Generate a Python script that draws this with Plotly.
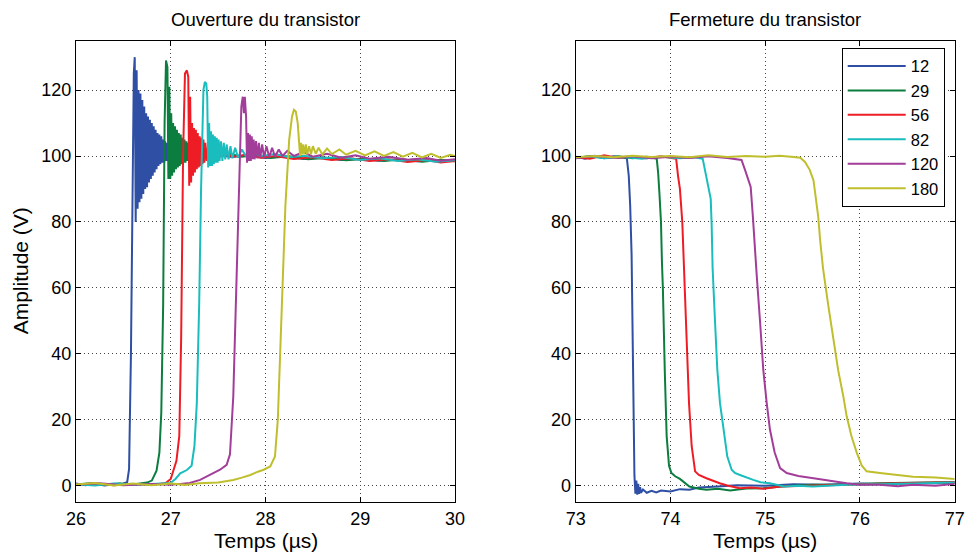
import plotly.graph_objects as go

NAMES = ["12", "29", "56", "82", "120", "180"]
COLORS = ["#2E4FA3", "#0B7D3E", "#EE1D25", "#19BDBD", "#A23E99", "#BFBF2E"]
TITLES = ["Ouverture du transistor", "Fermeture du transistor"]
X_LABEL = "Temps (µs)"
Y_LABEL = "Amplitude (V)"
Y_TICKS = [0, 20, 40, 60, 80, 100, 120]
X_TICKS_OUV = [26, 27, 28, 29, 30]
X_TICKS_FER = [73, 74, 75, 76, 77]

# ---------------- Ouverture (turn-on) ----------------
T_OUV_12 = [26.0, 26.1, 26.2, 26.3, 26.4, 26.5, 26.54, 26.56, 26.58, 26.60, 26.61,
            26.62, 26.63, 26.64, 26.65, 26.66, 26.67, 26.68, 26.69, 26.70, 26.71,
            26.72, 26.73, 26.74, 26.75, 26.76, 26.77, 26.78, 26.79, 26.80, 26.81,
            26.82, 26.83, 26.84, 26.85, 26.86, 26.87, 26.88, 26.89, 26.90, 26.91,
            26.92, 26.93, 26.94, 26.95, 26.96, 26.97, 26.98, 26.99, 27.00, 27.01,
            27.03, 27.05, 27.07, 27.09, 27.12,
            27.2, 27.3, 27.4, 27.5, 27.65, 27.8, 28.0, 28.2, 28.4, 28.6, 28.8, 29.0,
            29.2, 29.4, 29.6, 29.8, 30.0]
V_OUV_12 = [0.6, 0.1, 0.5, 0.0, 0.4, 0.6, 1, 5, 40, 100, 125,
            130, 80, 126, 84, 120, 86, 119, 87, 117, 88.5,
            115, 90, 113, 90.5, 112, 92, 111, 93, 110, 94,
            109, 95, 108, 96, 107, 97, 106.5, 97.5, 106, 98,
            105, 98, 104.5, 98.5, 104, 98.5, 103, 99, 102.5, 99,
            102, 99.3, 101.5, 99.5, 101,
            99.8, 100.6, 99.6, 100.3, 99.7, 100.2, 99.4, 99.9, 99.1, 99.6, 98.8, 99.2,
            98.6, 99.0, 98.4, 98.8, 98.5]

T_OUV_29 = [26.0, 26.15, 26.3, 26.45, 26.6, 26.75, 26.8, 26.85, 26.88, 26.90, 26.92, 26.935, 26.95, 26.965,
            26.975, 26.985, 26.995, 27.005, 27.015, 27.025, 27.035, 27.045, 27.055, 27.065,
            27.075, 27.085, 27.095, 27.105, 27.115, 27.125, 27.135, 27.145, 27.155, 27.165,
            27.175, 27.185, 27.195, 27.205, 27.22, 27.24, 27.26, 27.28, 27.31, 27.34, 27.38, 27.42,
            27.5, 27.6, 27.75, 27.9, 28.05, 28.25, 28.45, 28.65, 28.85, 29.05, 29.25, 29.45,
            29.65, 29.85, 30.0]
V_OUV_29 = [0.3, 0.7, 0.2, 0.6, 0.3, 0.9, 1.5, 4.5, 10, 22, 55, 110, 129, 127,
            93, 121, 93, 113, 94, 110, 95, 109, 96, 108,
            96.5, 107, 97, 106.5, 97.5, 105.5, 98, 105, 98, 104.5,
            98.5, 104, 98.5, 103.5, 99, 103, 99, 102.5, 99.3, 102, 99.5, 101.5,
            100.2, 100.8, 99.8, 100.3, 99.4, 99.9, 99.0, 99.5, 98.7, 99.2, 98.5, 99.0,
            98.3, 98.8, 98.4]

T_OUV_56 = [26.0, 26.2, 26.4, 26.6, 26.8, 26.95, 27.0, 27.03, 27.06, 27.09, 27.11, 27.13, 27.15, 27.17, 27.185,
            27.195, 27.205, 27.215, 27.225, 27.235, 27.245, 27.255, 27.265, 27.275, 27.285,
            27.295, 27.305, 27.315, 27.325, 27.335, 27.345, 27.355, 27.365, 27.38, 27.395,
            27.41, 27.43, 27.45, 27.48, 27.51, 27.55,
            27.65, 27.8, 27.95, 28.1, 28.3, 28.5, 28.7, 28.9, 29.1, 29.3, 29.5, 29.7, 29.85, 30.0]
V_OUV_56 = [0.2, 0.6, 0.1, 0.5, 0.2, 0.8, 2, 4.5, 7.5, 15, 45, 100, 125, 126, 124,
            91, 118, 92, 110, 94, 108.5, 95, 108, 96, 107,
            96.5, 106, 97, 105.5, 97.5, 105, 98, 104, 98.5, 103.5,
            99, 103, 99, 102, 99.4, 101.5,
            99.8, 100.4, 99.5, 100.0, 99.1, 99.6, 98.8, 99.3, 98.5, 99.0, 98.2, 98.8, 98.0, 98.5]

T_OUV_82 = [26.0, 26.2, 26.4, 26.6, 26.8, 27.0, 27.05, 27.1, 27.17, 27.22, 27.25, 27.275, 27.30, 27.32,
            27.345, 27.36, 27.375, 27.385,
            27.395, 27.405, 27.415, 27.425, 27.435, 27.445, 27.455, 27.465, 27.475, 27.485,
            27.495, 27.505, 27.515, 27.53, 27.545, 27.56, 27.575, 27.59, 27.61, 27.63,
            27.65, 27.68, 27.71, 27.75, 27.8, 27.85,
            27.95, 28.1, 28.25, 28.4, 28.6, 28.8, 29.0, 29.2, 29.4, 29.6, 29.8, 30.0]
V_OUV_82 = [0.4, 0.0, 0.6, 0.2, 0.5, 0.8, 2, 3.7, 4.7, 6, 12, 25, 55, 90,
            120, 122.5, 122, 118,
            96.5, 110, 97, 107.5, 97, 106.5, 97.5, 106, 98, 105.5,
            98, 105, 98.5, 104.5, 98.5, 104, 99, 103.5, 99, 103,
            99.3, 102.5, 99.5, 102, 99.7, 101.5,
            100.0, 100.6, 99.6, 100.1, 99.3, 99.7, 98.8, 99.3, 98.5, 99.0, 98.3, 98.7]

T_OUV_120 = [26.0, 26.25, 26.5, 26.8, 27.0, 27.2, 27.31, 27.42, 27.52, 27.59, 27.625, 27.66, 27.695,
             27.72, 27.745, 27.76, 27.772, 27.782, 27.795,
             27.805, 27.815, 27.825, 27.835, 27.845, 27.855, 27.865, 27.875, 27.885, 27.9,
             27.915, 27.93, 27.945, 27.965, 27.985, 28.01, 28.04, 28.07, 28.1, 28.14, 28.18, 28.23,
             28.3, 28.4, 28.5, 28.65, 28.8, 28.95, 29.1, 29.3, 29.5, 29.7, 29.85, 30.0]
V_OUV_120 = [0.3, 0.7, 0.1, 0.5, 0.2, 0.8, 1.7, 3.2, 4.8, 6.3, 9.5, 27, 64,
             95, 115, 118, 113, 118, 112,
             98, 107, 98.5, 106.5, 98.5, 106, 99, 105, 99, 104.5,
             99.3, 104, 99.5, 103.5, 99.5, 103, 99.7, 102.5, 99.8, 102, 100, 101.6,
             100.0, 101.2, 99.8, 100.7, 99.5, 100.2, 99.2, 99.8, 98.9, 99.4, 98.6, 99.0]

T_OUV_180 = [26.0, 26.2, 26.4, 26.6, 26.8, 27.0, 27.15, 27.3, 27.5, 27.66, 27.75, 27.84, 27.92, 27.98,
             28.05, 28.10, 28.13, 28.17, 28.21, 28.25, 28.28, 28.30, 28.32, 28.34, 28.355,
             28.365, 28.375, 28.385, 28.395, 28.41, 28.425, 28.44, 28.46, 28.48, 28.50,
             28.53, 28.56, 28.6, 28.65, 28.7, 28.78, 28.85, 28.95, 29.05, 29.15,
             29.25, 29.35, 29.45, 29.55, 29.65, 29.75, 29.85, 29.95, 30.0]
V_OUV_180 = [0.3, 0.8, 0.0, 0.6, 0.1, 0.6, 0.2, 0.7, 0.9, 1.7, 2.4, 3.2, 4.2, 4.8,
             5.8, 8.8, 20, 51, 85, 105, 112, 114, 113.5, 110, 104,
             100, 104, 100.5, 103.5, 100.5, 103.5, 100.5, 103, 100.5, 103,
             100.7, 102.5, 100.5, 102.3, 100.6, 102, 100.4, 101.6, 100.2, 101.4,
             100.0, 101.2, 99.8, 101.0, 99.6, 100.7, 99.4, 100.4, 100.0]

# ---------------- Fermeture (turn-off) ----------------
T_FER_12 = [73.0, 73.1, 73.2, 73.3, 73.4, 73.5, 73.54, 73.56, 73.575, 73.59, 73.60, 73.61, 73.62,
            73.63, 73.64, 73.65, 73.66, 73.67, 73.68, 73.69, 73.71, 73.75, 73.8, 73.85, 73.9,
            74.0, 74.1, 74.2, 74.3, 74.5, 74.7, 75.0, 75.3, 75.6, 76.0, 76.3, 76.6, 77.0]
V_FER_12 = [99.8, 99.2, 100.1, 99.3, 99.9, 99.4, 99.3, 94, 85, 70, 40, 10, 3,
            -2.5, 1.5, -2.8, 0.5, -2.5, -0.5, -2.2, -1.2, -2.2, -1.6, -2.1, -1.5,
            -1.8, -1.1, -1.3, -0.6, -0.3, 0.1, -0.1, 0.4, 0.2, 0.6, 0.4, 0.8, 0.7]

T_FER_29 = [73.0, 73.15, 73.3, 73.45, 73.6, 73.75, 73.855, 73.87, 73.885, 73.9, 73.91, 73.92, 73.94,
            73.96, 73.985, 74.01, 74.05, 74.1, 74.2, 74.3, 74.38, 74.5, 74.63, 74.8, 74.98,
            75.2, 75.5, 75.8, 76.2, 76.6, 77.0]
V_FER_29 = [99.3, 100.0, 99.4, 99.9, 99.3, 99.8, 99.2, 95, 88, 80, 68, 60, 35,
            15, 6, 3.8, 2.8, 2, -0.3, -1.0, -1.3, -1.0, -1.5, -0.9, -0.8,
            -0.2, 0.2, 0.3, 0.7, 0.8, 1.1]

T_FER_56 = [73.0, 73.15, 73.3, 73.45, 73.6, 73.75, 73.9, 74.0, 74.06, 74.08, 74.1, 74.125, 74.143,
            74.17, 74.196, 74.224, 74.26, 74.3, 74.38, 74.45, 74.52, 74.6, 74.73, 74.85, 74.98,
            75.16, 75.5, 75.8, 76.1, 76.5, 77.0]
V_FER_56 = [99.6, 99.2, 100.2, 99.4, 99.9, 99.3, 99.9, 99.4, 99.2, 94, 90, 80, 64,
            45, 25, 12, 4.3, 3.2, 2.2, 1.4, 0.7, 0.0, -0.8, -0.6, -1.0,
            -0.3, 0.0, 0.2, 0.6, 0.8, 1.0]

T_FER_82 = [73.0, 73.15, 73.3, 73.5, 73.7, 73.9, 74.1, 74.25, 74.34, 74.365, 74.4, 74.425, 74.435,
            74.445, 74.47, 74.495, 74.523, 74.56, 74.6, 74.646, 74.68, 74.734, 74.8, 74.874, 74.95,
            75.05, 75.2, 75.35, 75.5, 75.86, 76.2, 76.5, 77.0]
V_FER_82 = [99.5, 99.9, 99.3, 99.7, 99.2, 99.8, 99.3, 99.6, 99.2, 95.6, 91.6, 87, 79,
            66, 50, 35, 25, 17, 8.8, 4.8, 3.8, 3.2, 2.4, 1.7, 1.0,
            0.7, -0.3, -0.1, -0.3, 0.2, 0.4, 0.6, 0.9]

T_FER_120 = [73.0, 73.2, 73.4, 73.6, 73.8, 74.0, 74.2, 74.4, 74.6, 74.75, 74.787, 74.82, 74.847,
             74.87, 74.88, 74.9, 74.91, 74.945, 74.98, 75.016, 75.05, 75.10, 75.157, 75.227, 75.35,
             75.51, 75.7, 75.86, 76.0, 76.21, 76.4, 76.56, 76.8, 77.0]
V_FER_120 = [99.4, 100.0, 99.5, 99.9, 99.3, 99.8, 99.4, 99.9, 99.4, 98.8, 95.8, 92.6, 90.6,
             81.6, 76.4, 68.3, 64, 50, 35, 25, 17, 10, 5.3, 3.8, 2.9,
             2.2, 1.3, 0.7, 0.2, 0.2, -0.2, 0.2, -0.1, 0.5]

T_FER_180 = [73.0, 73.2, 73.4, 73.6, 73.8, 74.0, 74.2, 74.4, 74.6, 74.8, 75.0, 75.15, 75.3,
             75.37, 75.42, 75.47, 75.51, 75.537, 75.56, 75.58, 75.61, 75.666, 75.72, 75.77, 75.825,
             75.86, 75.91, 75.966, 76.02, 76.07, 76.21, 76.4, 76.56, 76.8, 77.0]
V_FER_180 = [99.6, 100.0, 99.6, 100.1, 99.7, 100.0, 99.6, 100.2, 99.7, 100.0, 99.8, 100.1, 99.7,
             99.5, 98.2, 95.8, 92.6, 86.5, 81.5, 74.4, 66, 54.6, 45, 35, 27,
             21, 15, 10, 6, 4.3, 3.8, 3.2, 2.7, 2.4, 2.0]

OUV = [(T_OUV_12, V_OUV_12), (T_OUV_29, V_OUV_29), (T_OUV_56, V_OUV_56),
       (T_OUV_82, V_OUV_82), (T_OUV_120, V_OUV_120), (T_OUV_180, V_OUV_180)]
FER = [(T_FER_12, V_FER_12), (T_FER_29, V_FER_29), (T_FER_56, V_FER_56),
       (T_FER_82, V_FER_82), (T_FER_120, V_FER_120), (T_FER_180, V_FER_180)]
for t, v in OUV + FER:
    assert len(t) == len(v), (len(t), len(v))

FONT = "Liberation Sans, Arial, Helvetica, sans-serif"

fig = go.Figure()
for i, (t, v) in enumerate(OUV):
    fig.add_trace(go.Scatter(x=t, y=v, mode="lines", name=NAMES[i], showlegend=False,
                             line=dict(color=COLORS[i], width=2), xaxis="x", yaxis="y"))
for i, (t, v) in enumerate(FER):
    fig.add_trace(go.Scatter(x=t, y=v, mode="lines", name=NAMES[i], showlegend=True,
                             line=dict(color=COLORS[i], width=2), xaxis="x2", yaxis="y2"))

W, H = 967, 555
L1, R1 = 76 / W, 455 / W
L2, R2 = 575.7 / W, 954.7 / W
B, T = (H - 502) / H, (H - 40.7) / H

axis_common = dict(showline=True, linecolor="black", linewidth=1, mirror="ticks",
                   ticks="inside", ticklen=5, tickcolor="black",
                   showgrid=True, gridcolor="#444444", griddash="1px,3px", gridwidth=1,
                   zeroline=False, tickfont=dict(family=FONT, size=18, color="black"),
                   automargin=False)

fig.update_layout(
    width=W, height=H,
    margin=dict(l=0, r=0, t=0, b=0),
    paper_bgcolor="white", plot_bgcolor="white",
    font=dict(family=FONT, color="black"),
    xaxis=dict(domain=[L1, R1], range=[26, 30], tickvals=X_TICKS_OUV, anchor="y", **axis_common),
    yaxis=dict(domain=[B, T], range=[-5, 135], tickvals=Y_TICKS, anchor="x", **axis_common),
    xaxis2=dict(domain=[L2, R2], range=[73, 77], tickvals=X_TICKS_FER, anchor="y2", **axis_common),
    yaxis2=dict(domain=[B, T], range=[-5, 135], tickvals=Y_TICKS, anchor="x2", **axis_common),
    legend=dict(x=841.7 / W, y=(H - 47.7) / H, xanchor="left", yanchor="top",
                bgcolor="white", bordercolor="black", borderwidth=1,
                font=dict(family=FONT, size=16.5, color="black"),
                itemwidth=58, tracegroupgap=0),
    showlegend=True,
    annotations=[
        dict(text=TITLES[0], x=(L1 + R1) / 2, y=(H - 20) / H, xref="paper", yref="paper",
             showarrow=False, xanchor="center", yanchor="middle", font=dict(size=18.5, family=FONT)),
        dict(text=TITLES[1], x=(L2 + R2) / 2, y=(H - 20) / H, xref="paper", yref="paper",
             showarrow=False, xanchor="center", yanchor="middle", font=dict(size=18.5, family=FONT)),
        dict(text=X_LABEL, x=(L1 + R1) / 2, y=(H - 540.7) / H, xref="paper", yref="paper",
             showarrow=False, xanchor="center", yanchor="middle", font=dict(size=21, family=FONT)),
        dict(text=X_LABEL, x=(L2 + R2) / 2, y=(H - 540.7) / H, xref="paper", yref="paper",
             showarrow=False, xanchor="center", yanchor="middle", font=dict(size=21, family=FONT)),
        dict(text=Y_LABEL, x=20 / W, y=(B + T) / 2, xref="paper", yref="paper", textangle=-90,
             showarrow=False, xanchor="center", yanchor="middle", font=dict(size=21, family=FONT)),
    ],
)

fig.write_html("out.html", config={"displayModeBar": False},
               post_script="document.body.style.margin='0px';")
